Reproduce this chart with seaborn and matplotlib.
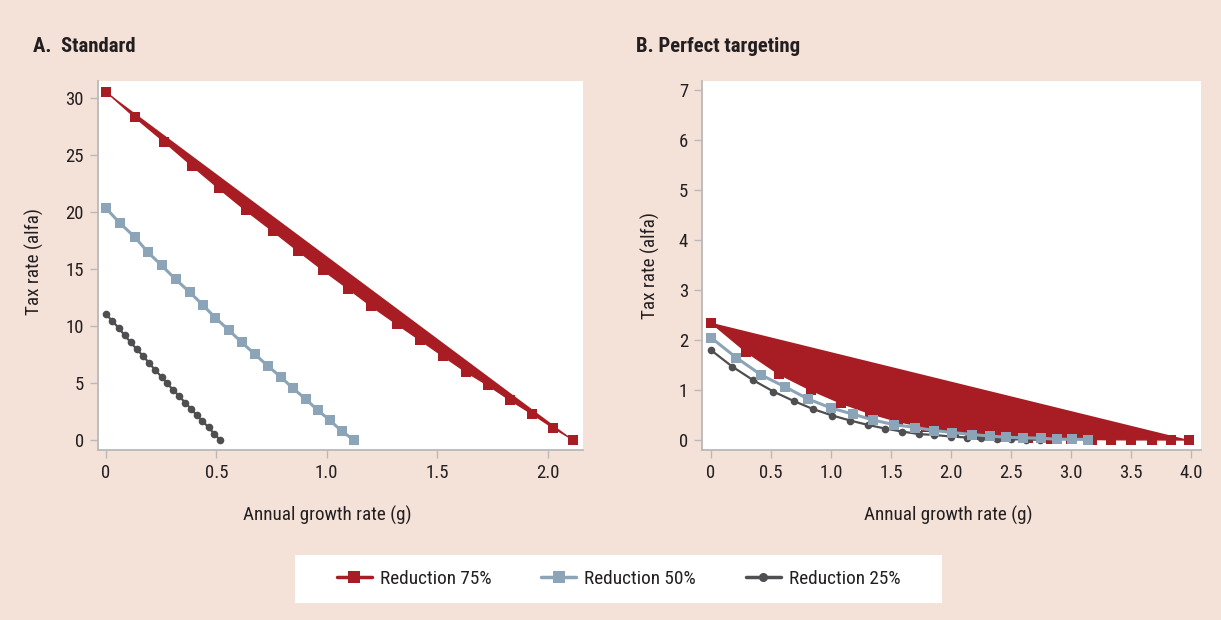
import numpy as np
import pandas as pd
import matplotlib
matplotlib.use("Agg")
import matplotlib.pyplot as plt
from matplotlib import font_manager
from matplotlib.lines import Line2D
from matplotlib.patches import Rectangle
import seaborn as sns

# ─────────────────────────────────────────────
# DATA
# ─────────────────────────────────────────────
# Panel A — standard
A_G75 = [0, 0.131, 0.264, 0.390, 0.511, 0.633, 0.757, 0.870, 0.983, 1.096,
         1.202, 1.317, 1.422, 1.526, 1.629, 1.730, 1.829, 1.928, 2.023, 2.116]
A_T75 = [30.56, 28.31, 26.16, 24.05, 22.07, 20.14, 18.30, 16.58, 14.89, 13.28,
         11.73, 10.16, 8.76, 7.36, 5.98, 4.79, 3.50, 2.30, 1.08, 0.0]
A_G50 = [0, 0.063, 0.131, 0.189, 0.252, 0.315, 0.380, 0.438, 0.496, 0.557,
         0.614, 0.674, 0.732, 0.792, 0.846, 0.904, 0.958, 1.014, 1.067, 1.122]
A_T50 = [20.34, 19.03, 17.80, 16.49, 15.32, 14.10, 12.96, 11.85, 10.71, 9.63,
         8.58, 7.53, 6.51, 5.52, 4.55, 3.59, 2.63, 1.72, 0.79, 0.0]
A_G25 = [0, 0.029, 0.058, 0.085, 0.112, 0.140, 0.169, 0.196, 0.223, 0.252,
         0.277, 0.305, 0.332, 0.359, 0.386, 0.412, 0.437, 0.465, 0.490, 0.517]
A_T25 = [11.06, 10.42, 9.83, 9.17, 8.58, 7.94, 7.36, 6.74, 6.13, 5.54,
         4.96, 4.38, 3.83, 3.27, 2.71, 2.16, 1.64, 1.11, 0.53, 0.0]

# Panel B — perfect targeting
B_G75 = [0, 0.29, 0.565, 0.83, 1.085, 1.32, 1.557, 1.79, 2.02, 2.24,
         2.44, 2.64, 2.83, 3.0, 3.17, 3.33, 3.50, 3.67, 3.83, 3.98]
B_T75 = [2.35, 1.77, 1.32, 1.00, 0.735, 0.535, 0.37, 0.255, 0.17, 0.11,
         0.07, 0.045, 0.03, 0.02, 0.01, 0.005, 0.003, 0.002, 0.001, 0.0]
B_G50 = [0, 0.21, 0.42, 0.62, 0.81, 1.0, 1.18, 1.35, 1.52, 1.70,
         1.86, 2.01, 2.17, 2.32, 2.46, 2.60, 2.75, 2.88, 3.01, 3.14]
B_T50 = [2.05, 1.65, 1.30, 1.06, 0.82, 0.64, 0.52, 0.40, 0.31, 0.25,
         0.19, 0.15, 0.11, 0.08, 0.055, 0.045, 0.035, 0.015, 0.015, 0.01]
B_G25 = [0, 0.177, 0.35, 0.52, 0.69, 0.85, 1.01, 1.16, 1.31, 1.45,
         1.59, 1.73, 1.86, 2.0, 2.13, 2.25, 2.38, 2.50, 2.62, 2.74]
B_T25 = [1.80, 1.47, 1.20, 0.97, 0.78, 0.62, 0.49, 0.39, 0.30, 0.23,
         0.17, 0.12, 0.10, 0.07, 0.05, 0.035, 0.025, 0.015, 0.01, 0.005]

SERIES = ["Reduction 75%", "Reduction 50%", "Reduction 25%"]
A_XTICKS = [0, 0.5, 1.0, 1.5, 2.0]
A_XLABELS = ["0", "0.5", "1.0", "1.5", "2.0"]
A_YTICKS = [0, 5, 10, 15, 20, 25, 30]
B_XTICKS = [0, 0.5, 1.0, 1.5, 2.0, 2.5, 3.0, 3.5, 4.0]
B_XLABELS = ["0", "0.5", "1.0", "1.5", "2.0", "2.5", "3.0", "3.5", "4.0"]
B_YTICKS = [0, 1, 2, 3, 4, 5, 6, 7]

# ─────────────────────────────────────────────
# STYLE
# ─────────────────────────────────────────────
RED = "#a81d24"
BLUE = "#8ba4b8"
DARK = "#4f4f52"
BG = "#f4e2d9"
TXT = "#231f20"
AXC = "#b9b9b9"

sns.set_theme(style="white")

# prefer a narrow / condensed face if one is installed (reference uses a condensed font)
fonts = font_manager.fontManager.ttflist
FONT, STRETCH = "Roboto", "normal"
for pref in ["Liberation Sans Narrow", "Roboto Condensed", "Open Sans Condensed",
             "Noto Sans Condensed", "DejaVu Sans Condensed"]:
    if any(f.name == pref for f in fonts):
        FONT = pref
        break
else:
    for fam in ["Roboto", "Open Sans", "Noto Sans", "DejaVu Sans"]:
        if any(f.name == fam and f.stretch in ("condensed", "semi-condensed") for f in fonts):
            FONT, STRETCH = fam, "condensed"
            break
plt.rcParams["font.family"] = [FONT, "DejaVu Sans"]
plt.rcParams["font.stretch"] = STRETCH

W, H = 1221, 620
fig = plt.figure(figsize=(W / 100, H / 100), dpi=100, facecolor=BG)
renderer = fig.canvas.get_renderer()


def fit_size(text, width_px, cap, weight="normal"):
    """font size that makes `text` about width_px wide (capped)"""
    t = fig.text(0, 0, text, fontsize=10, fontweight=weight)
    w = t.get_window_extent(renderer).width
    t.remove()
    return min(cap, 10 * width_px / w)


FS_TICK = fit_size("30", 19, 13.5)
FS_LABEL = fit_size("Annual growth rate (g)", 168, 14)
FS_LEG = fit_size("Reduction 75%", 111, 15)
FS_TITLE = fit_size("B. Perfect targeting", 164, 16, weight="bold")

axA = fig.add_axes([98 / W, 1 - 450 / H, 485 / W, 369 / H])
axB = fig.add_axes([702 / W, 1 - 450 / H, 499 / W, 369 / H])


def draw_panel(ax, g75, t75, g50, t50, g25, t25):
    # the 75% series is drawn as a closed, filled shape (curve + chord)
    ax.fill(g75, t75, color=RED, lw=0, zorder=2)
    sns.lineplot(x=g75, y=t75, ax=ax, sort=False, estimator=None, color=RED,
                 lw=1, marker="s", markersize=7.5, markeredgewidth=0, zorder=3)
    sns.lineplot(x=g25, y=t25, ax=ax, sort=False, estimator=None, color=DARK,
                 lw=1.6, marker="o", markersize=5.5, markeredgewidth=0, zorder=4)
    sns.lineplot(x=g50, y=t50, ax=ax, sort=False, estimator=None, color=BLUE,
                 lw=2.2, marker="s", markersize=7, markeredgewidth=0, zorder=5)


draw_panel(axA, A_G75, A_T75, A_G50, A_T50, A_G25, A_T25)
draw_panel(axB, B_G75, B_T75, B_G50, B_T50, B_G25, B_T25)

axA.set_xlim(-0.036, 2.16)
axA.set_ylim(-0.88, 31.5)
axA.set_xticks(A_XTICKS, A_XLABELS)
axA.set_yticks(A_YTICKS)
axB.set_xlim(-0.075, 4.08)
axB.set_ylim(-0.2, 7.19)
axB.set_xticks(B_XTICKS, B_XLABELS)
axB.set_yticks(B_YTICKS)

for ax in (axA, axB):
    ax.set_facecolor("white")
    sns.despine(ax=ax)
    for s in ("left", "bottom"):
        ax.spines[s].set_color(AXC)
        ax.spines[s].set_linewidth(1.3)
    ax.tick_params(axis="both", which="major", direction="out", length=6, width=1,
                   color=AXC, labelsize=FS_TICK, labelcolor=TXT, pad=4,
                   left=True, bottom=True)
    ax.set_xlabel("Annual growth rate (g)", fontsize=FS_LABEL, color=TXT)
    ax.set_ylabel("Tax rate (alfa)", fontsize=FS_LABEL, color=TXT)

axA.xaxis.set_label_coords(0.472, -0.15)
axB.xaxis.set_label_coords(0.493, -0.15)
axA.yaxis.set_label_coords(-0.111, 0.511)
axB.yaxis.set_label_coords(-0.084, 0.499)

fig.text(33 / W, 1 - 46 / H, "A.  Standard", fontsize=FS_TITLE, fontweight="bold",
         color=TXT, va="center", ha="left")
fig.text(636 / W, 1 - 46 / H, "B. Perfect targeting", fontsize=FS_TITLE, fontweight="bold",
         color=TXT, va="center", ha="left")

# legend box
fig.patches.append(Rectangle((295 / W, 1 - 603 / H), 647 / W, 48 / H,
                             transform=fig.transFigure, facecolor="white",
                             edgecolor="none", zorder=0))
handles = [
    Line2D([], [], color=RED, lw=2.5, marker="s", markersize=8, markeredgewidth=0),
    Line2D([], [], color=BLUE, lw=2.5, marker="s", markersize=8, markeredgewidth=0),
    Line2D([], [], color=DARK, lw=2.5, marker="o", markersize=6.5, markeredgewidth=0),
]
# column layout in px: handle 35, gap 8, text ~111, gap to next handle 50
em = FS_LEG * 100 / 72
fig.legend(handles, SERIES, loc="center", bbox_to_anchor=(618.5 / W, 1 - 579 / H),
           ncol=3, frameon=False, fontsize=FS_LEG, handlelength=35 / em,
           handletextpad=8 / em, columnspacing=50 / em, labelcolor=TXT)

fig.savefig("out.png", dpi=100, facecolor=BG)
